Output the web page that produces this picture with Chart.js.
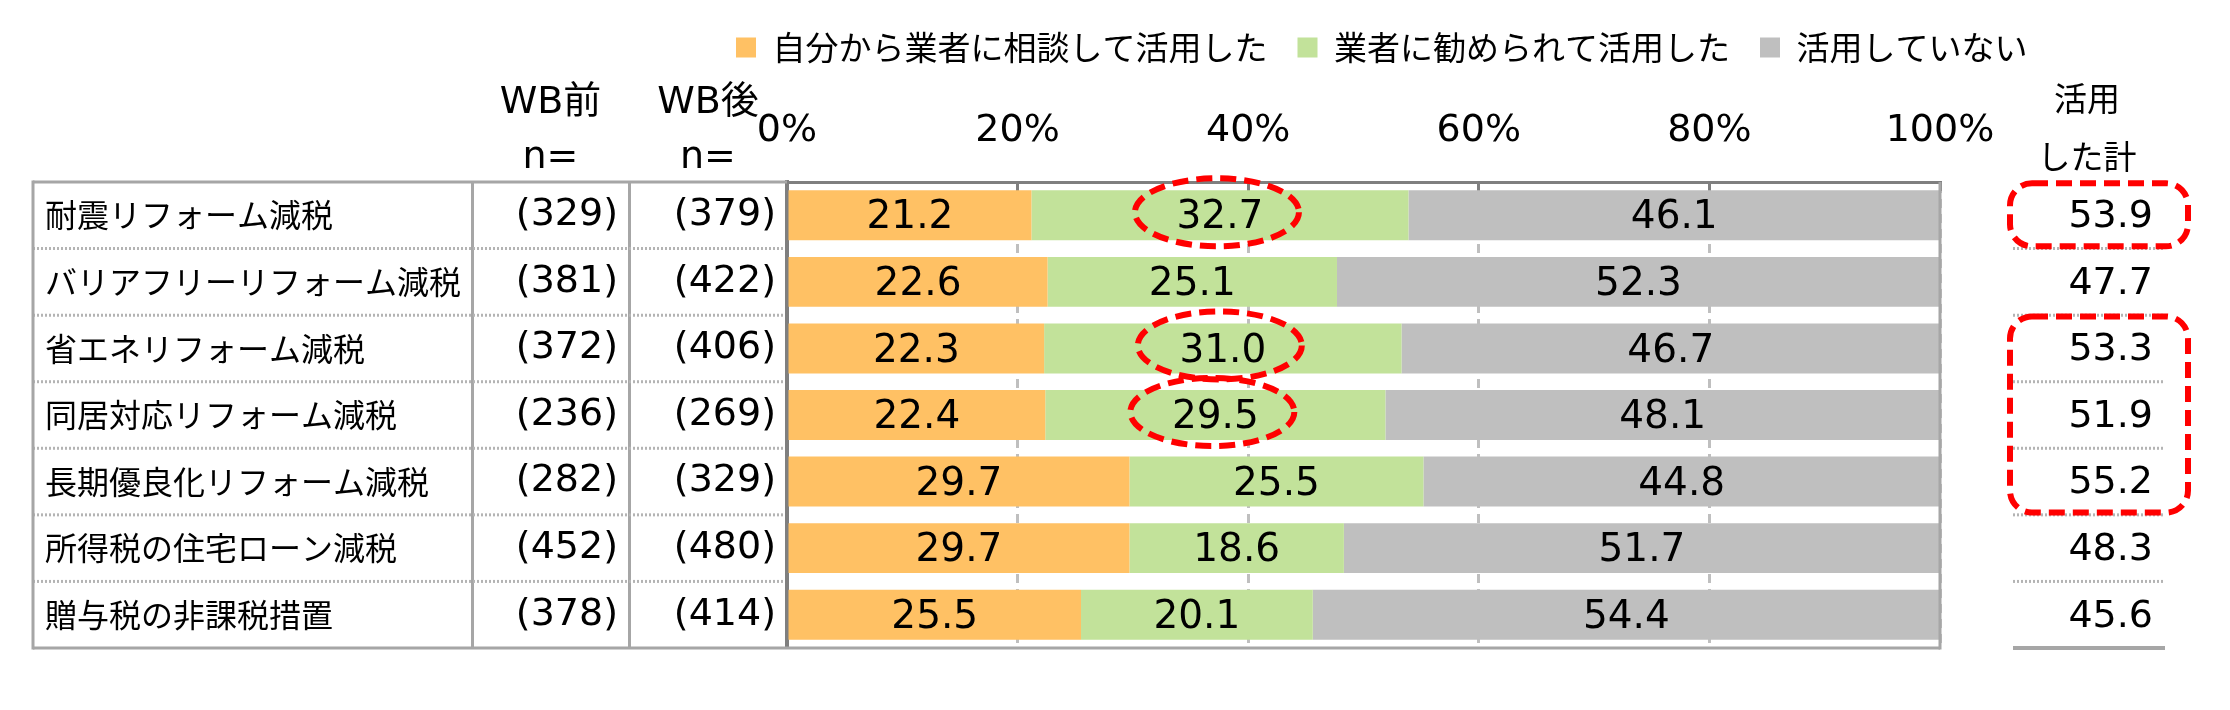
<!DOCTYPE html>
<html lang="ja">
<head>
<meta charset="utf-8">
<title>減税制度の活用状況</title>
<script src="https://cdn.jsdelivr.net/npm/chart.js@4.4.1/dist/chart.umd.min.js"></script>
<style>
    html, body { margin: 0; padding: 0; background: #ffffff; }
    #chartWrapper { width: 2230px; height: 710px; position: relative; }
</style>
</head>
<body>
<div id="chartWrapper"><canvas id="taxChart"></canvas></div>
<script>
const categories = [
    '耐震リフォーム減税',
    'バリアフリーリフォーム減税',
    '省エネリフォーム減税',
    '同居対応リフォーム減税',
    '長期優良化リフォーム減税',
    '所得税の住宅ローン減税',
    '贈与税の非課税措置'
];
const nBefore = ['(329)', '(381)', '(372)', '(236)', '(282)', '(452)', '(378)'];
const nAfter = ['(379)', '(422)', '(406)', '(269)', '(329)', '(480)', '(414)'];

const seriesNames = ['自分から業者に相談して活用した', '業者に勧められて活用した', '活用していない'];
const selfInitiated = [21.2, 22.6, 22.3, 22.4, 29.7, 29.7, 25.5];
const recommended = [32.7, 25.1, 31.0, 29.5, 25.5, 18.6, 20.1];
const notUsed = [46.1, 52.3, 46.7, 48.1, 44.8, 51.7, 54.4];
const usedTotal = [53.9, 47.7, 53.3, 51.9, 55.2, 48.3, 45.6];

const xTickValues = [0, 20, 40, 60, 80, 100];

// rows that the original marks with red dashed outlines
const circledRecommended = [0, 2, 3];
const boxedTotals = [[0, 0], [2, 4]];

const NUM_FONT = "'DejaVu Sans', 'Noto Sans CJK JP', sans-serif";
const JP_FONT = "'Noto Sans CJK JP', 'DejaVu Sans', sans-serif";
const TABLE_GRAY = '#a6a6a6';
const AXIS_GRAY = '#7f7f7f';

function rowSeparators(yScale) {
    const ys = [];
    for (let i = 0; i < categories.length - 1; i++) {
        ys.push((yScale.getPixelForValue(i) + yScale.getPixelForValue(i + 1)) / 2);
    }
    return ys;
}

function line(ctx, x1, y1, x2, y2, color, width, dash) {
    ctx.save();
    ctx.strokeStyle = color;
    ctx.lineWidth = width;
    ctx.setLineDash(dash || []);
    ctx.beginPath();
    ctx.moveTo(x1, y1);
    ctx.lineTo(x2, y2);
    ctx.stroke();
    ctx.restore();
}

// table frame, row separators, column headers and the 活用した計 column
const tablePlugin = {
    id: 'tablePlugin',
    afterDraw(chart) {
        const ctx = chart.ctx;
        const area = chart.chartArea;
        const yScale = chart.scales.y;
        const pre = chart.scales.yPre;
        const post = chart.scales.yPost;
        const tot = chart.scales.yTot;
        const tableLeft = 33;
        const totLeft = area.right + 73;
        const totRight = area.right + 225;

        rowSeparators(yScale).forEach(y => {
            line(ctx, tableLeft, y, area.left - 2, y, '#b4b4b4', 3, [2, 2]);
            line(ctx, totLeft, y, totRight, y, '#b4b4b4', 3, [2, 2]);
        });

        line(ctx, tableLeft, area.top, area.left, area.top, TABLE_GRAY, 3);
        line(ctx, tableLeft, area.top - 1.5, tableLeft, area.bottom + 1.5, TABLE_GRAY, 3);
        line(ctx, tableLeft, area.bottom, area.right, area.bottom, TABLE_GRAY, 3);
        line(ctx, area.right, area.top, area.right, area.bottom + 1.5, TABLE_GRAY, 3);
        line(ctx, totLeft, area.bottom, totRight, area.bottom, TABLE_GRAY, 4);

        ctx.save();
        ctx.fillStyle = '#000000';
        ctx.textAlign = 'center';
        ctx.textBaseline = 'alphabetic';
        ctx.font = '38px ' + NUM_FONT;
        [[pre, 'WB前'], [post, 'WB後']].forEach(([scale, text]) => {
            const cx = (scale.left + scale.right) / 2;
            ctx.fillText(text, cx, 113);
            ctx.fillText('n=', cx, 168);
        });

        ctx.textAlign = 'right';
        ctx.textBaseline = 'middle';
        usedTotal.forEach((v, i) => {
            ctx.fillText(v.toFixed(1), area.right + 213, tot.getPixelForValue(i) + 2);
        });

        ctx.font = '33px ' + JP_FONT;
        ctx.textAlign = 'center';
        ctx.fillText('活用', area.right + 147, 98);
        ctx.fillText('した計', area.right + 147, 156);
        ctx.restore();

        // red dashed highlights
        ctx.save();
        ctx.strokeStyle = '#ff0000';
        ctx.lineWidth = 6;
        ctx.setLineDash([16, 8]);
        const greenMeta = chart.getDatasetMeta(1);
        circledRecommended.forEach(i => {
            const bar = greenMeta.data[i];
            const cx = (bar.x + bar.base) / 2 - 3;
            const cy = bar.y - 3;
            ctx.beginPath();
            ctx.ellipse(cx, cy, 82, 34, 0, 0, Math.PI * 2);
            ctx.stroke();
        });
        boxedTotals.forEach(([a, b]) => {
            const top = tot.getPixelForValue(a) - 32;
            const bottom = tot.getPixelForValue(b) + 31;
            ctx.beginPath();
            ctx.roundRect(area.right + 70, top, 178, bottom - top, 22);
            ctx.stroke();
        });
        ctx.restore();
    }
};

// value labels in the middle of each bar segment
const barLabelPlugin = {
    id: 'barLabelPlugin',
    afterDatasetsDraw(chart) {
        const ctx = chart.ctx;
        ctx.save();
        ctx.font = '39px ' + NUM_FONT;
        ctx.fillStyle = '#000000';
        ctx.textAlign = 'center';
        ctx.textBaseline = 'middle';
        chart.data.datasets.forEach((ds, d) => {
            chart.getDatasetMeta(d).data.forEach((bar, i) => {
                ctx.fillText(ds.data[i].toFixed(1), (bar.x + bar.base) / 2, bar.y + 3);
            });
        });
        ctx.restore();
    }
};

function buildChart() {
    const chartElement = document.getElementById('taxChart');
    const colors = ['#ffc164', '#c2e29a', '#bfbfbf'];
    const values = [selfInitiated, recommended, notUsed];

    const datasets = values.map((data, i) => ({
        label: seriesNames[i],
        data,
        backgroundColor: colors[i],
        borderWidth: 0,
        barPercentage: 0.75,
        categoryPercentage: 1.0
    }));

    const sideAxis = (labels, weight, width, padding, position) => ({
        type: 'category',
        position,
        labels,
        offset: true,
        weight,
        grid: { display: false, drawTicks: false },
        ticks: {
            crossAlign: 'near',
            padding,
            color: '#000000',
            font: { family: NUM_FONT, size: 38 }
        },
        afterFit: scale => { scale.width = width; }
    });

    const yPre = sideAxis(nBefore, 1, 157, 11, 'left');
    yPre.border = { display: true, color: TABLE_GRAY, width: 3 };
    const yPost = sideAxis(nAfter, 0, 158, 11, 'left');
    yPost.border = { display: true, color: AXIS_GRAY, width: 4 };
    // right column: only used for row positions, its text is drawn by tablePlugin
    const yTot = sideAxis(usedTotal.map(v => v.toFixed(1)), 0, 117.5, 0, 'right');
    yTot.border = { display: false };
    yTot.ticks.display = false;

    return new Chart(chartElement, {
        type: 'bar',
        data: { labels: categories, datasets },
        options: {
            indexAxis: 'y',
            responsive: true,
            maintainAspectRatio: false,
            animation: false,
            layout: { padding: { top: 1, left: 45, right: 172.5, bottom: 62 } },
            scales: {
                x: {
                    position: 'top',
                    stacked: true,
                    min: 0,
                    max: 100,
                    afterBuildTicks: scale => {
                        scale.ticks = xTickValues.map(v => ({ value: v }));
                    },
                    ticks: {
                        padding: 37,
                        color: '#000000',
                        font: { family: NUM_FONT, size: 38, lineHeight: 1.2 },
                        callback: v => v + '%'
                    },
                    grid: {
                        color: '#bfbfbf',
                        lineWidth: 3,
                        drawTicks: true,
                        tickLength: -9,
                        tickColor: AXIS_GRAY,
                        tickWidth: 3
                    },
                    border: { display: true, color: AXIS_GRAY, width: 3, dash: [9, 6] },
                    afterFit: scale => { scale.height = 108; }
                },
                y: {
                    stacked: true,
                    weight: 2,
                    grid: { display: false, drawTicks: false },
                    border: { display: true, color: TABLE_GRAY, width: 3 },
                    ticks: {
                        crossAlign: 'far',
                        padding: 0,
                        color: '#000000',
                        font: { family: JP_FONT, size: 32 }
                    },
                    afterFit: scale => { scale.width = 427; }
                },
                yPre,
                yPost,
                yTot
            },
            plugins: {
                legend: {
                    display: true,
                    position: 'top',
                    align: 'end',
                    labels: {
                        boxWidth: 20,
                        boxHeight: 20,
                        padding: 30,
                        color: '#000000',
                        font: { family: JP_FONT, size: 33 }
                    }
                },
                tooltip: { enabled: false }
            }
        },
        plugins: [barLabelPlugin, tablePlugin]
    });
}

document.addEventListener('DOMContentLoaded', buildChart);
</script>
</body>
</html>
